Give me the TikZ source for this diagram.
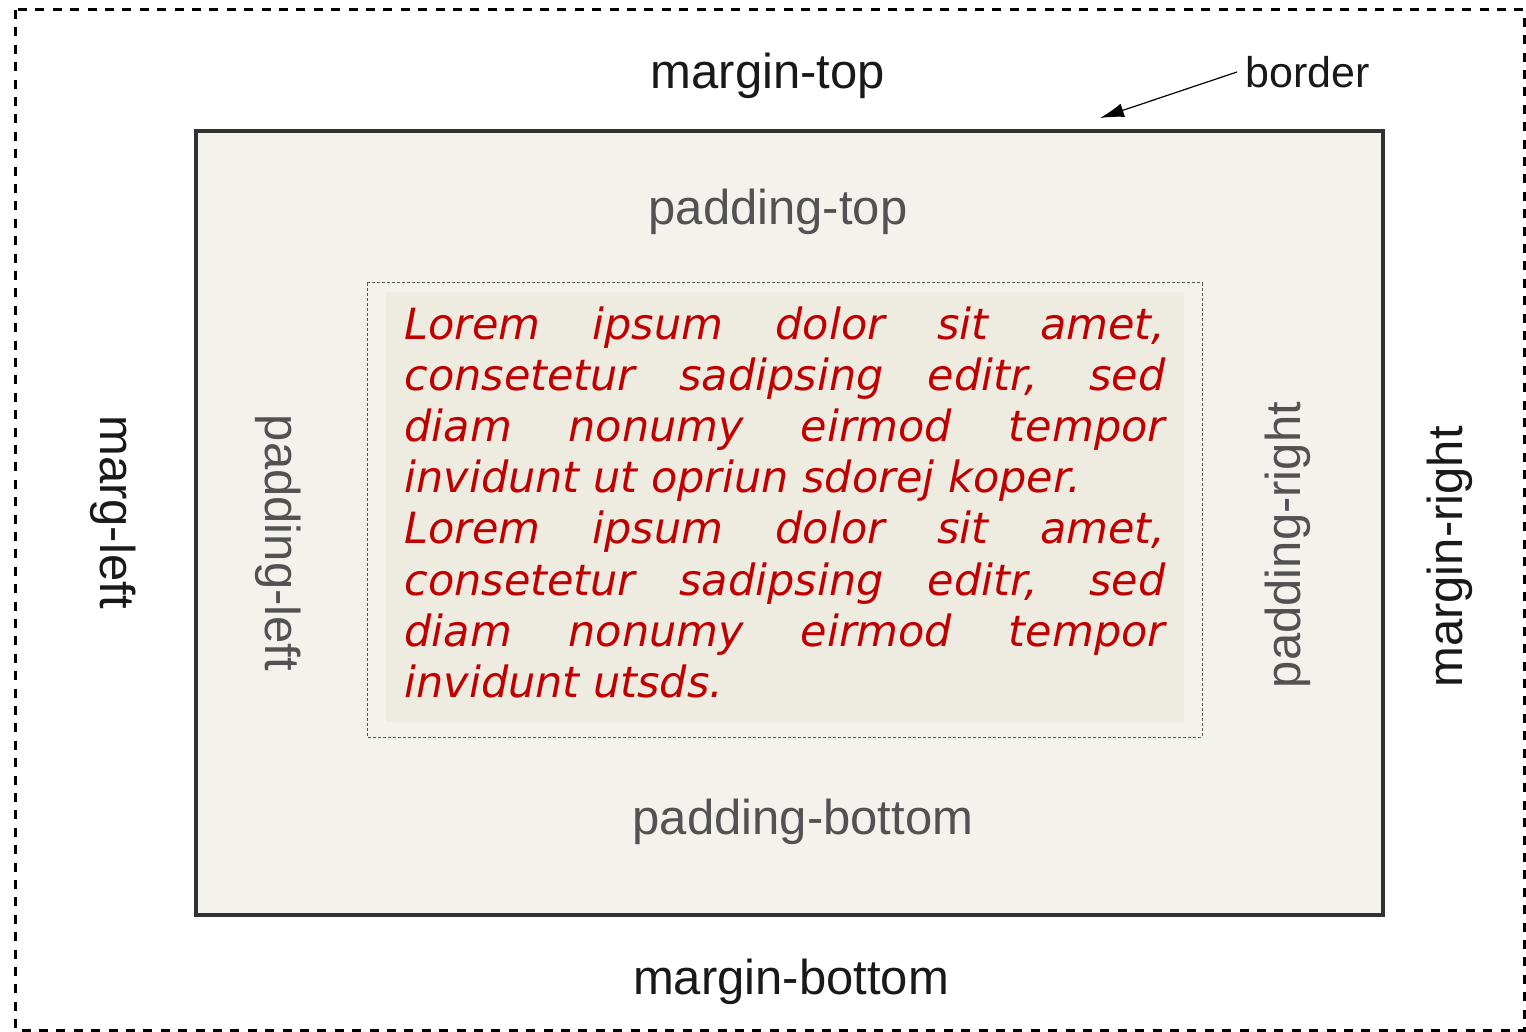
\documentclass[tikz,border=0pt]{standalone}
\usepackage{fontspec}
\setmainfont{Liberation Sans}
\newfontfamily\loremfont{DejaVu Sans}
\usepackage{tikz}
\usetikzlibrary{arrows.meta,positioning}
\definecolor{loremred}{RGB}{192, 0, 0}
\definecolor{borderfill}{RGB}{243, 242, 237}
\definecolor{contentfill}{RGB}{238, 235, 225}
\definecolor{borderline}{RGB}{50, 50, 50}
\tikzstyle{marginbox} = [draw=black, line width=1.5pt, dash pattern=on 4.5pt off 4.2pt]
\tikzstyle{borderbox} = [draw=borderline, line width=1.7pt, fill=borderfill]
\tikzstyle{paddingbox} = [draw=black!65, line width=0.5pt, dash pattern=on 1.5pt off 1pt]
\tikzstyle{marginlabel} = [text=black!90, inner sep=0pt, font=\fontsize{24.5}{29}\selectfont]
\tikzstyle{paddinglabel} = [marginlabel, text=black!68]
\tikzstyle{lorem} = [text=loremred, inner sep=0pt, text width=380.5pt, align=justify, font=\loremfont\itshape\fontsize{21.5}{25.6}\selectfont, execute at begin node={\tolerance=10000\relax\hbadness=10000\relax\hyphenpenalty=10000\relax}]
\tikzstyle{tedge}  = [draw, line width=0.6pt, >={Latex[length=12pt,width=7pt]}, ->]

\begin{document}
\begin{tikzpicture}[x=0.5pt, y=-0.5pt]
\useasboundingbox (0,0) rectangle (1526,1032);

% boxes =============================
\draw[marginbox] (15,10) rectangle (1524,1030);
\draw[borderbox] (196,131) rectangle (1383,915);
\fill[contentfill] (386,292) rectangle (1184,722);
\draw[paddingbox] (367,283) rectangle (1202,737);

% labels =============================
\node[marginlabel] (mtop) at (768,76) {margin-top};
\node[marginlabel] (mbottom) at (791,982) {margin-bottom};
\node[marginlabel, rotate=-90] (mleft) at (113,512) {marg-left};
\node[marginlabel, rotate=90] (mright) at (1450,557) {margin-right};
\node[paddinglabel] (ptop) at (778,212) {padding-top};
\node[paddinglabel] (pbottom) at (803,822) {padding-bottom};
\node[paddinglabel, rotate=-90] (pleft) at (278,543) {padding-left};
\node[paddinglabel, rotate=90] (pright) at (1288,545) {padding-right};
\node[marginlabel, font=\fontsize{21.5}{26}\selectfont, inner sep=4pt, anchor=west] (border) at (1237,72) {border};
\coordinate (bordertip) at (1100,118);

% content =============================
\node[lorem, anchor=north west] (content) at (404,306) {Lorem ipsum dolor sit amet,\linebreak consetetur sadipsing editr, sed\linebreak diam nonumy eirmod tempor\linebreak invidunt ut opriun sdorej koper.\par Lorem ipsum dolor sit amet,\linebreak consetetur sadipsing editr, sed\linebreak diam nonumy eirmod tempor\linebreak invidunt utsds.};

% edges =============================
\path[tedge] (border.west) -- (bordertip);

\end{tikzpicture}
\end{document}
